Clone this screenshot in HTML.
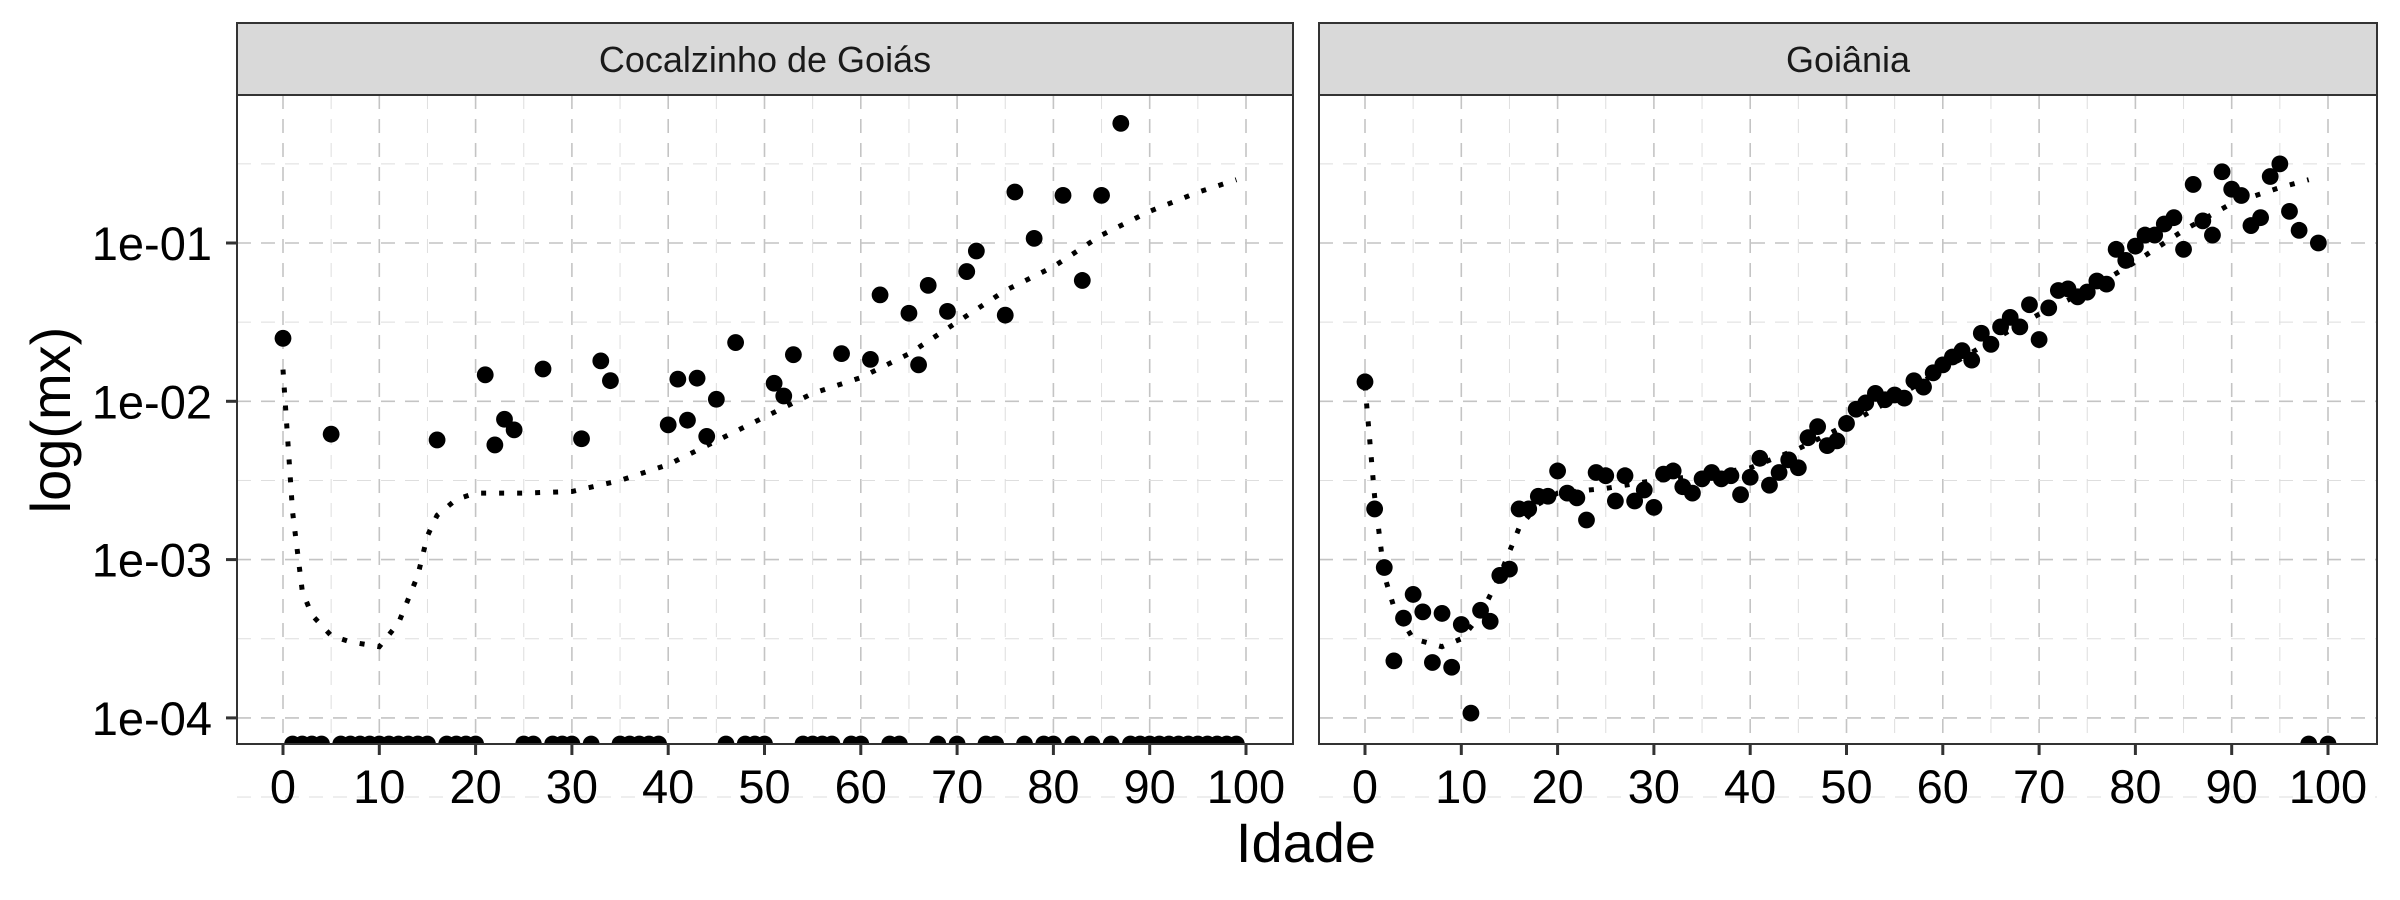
<!DOCTYPE html>
<html><head><meta charset="utf-8">
<style>
html,body{margin:0;padding:0;background:#fff;}
svg{display:block;font-family:"Liberation Sans",sans-serif;}
</style></head>
<body>
<svg id="chart" width="2400" height="900" viewBox="0 0 2400 900" xmlns="http://www.w3.org/2000/svg"></svg>
<script>
// ---- data ----
const panelNames = ["Cocalzinho de Goiás", "Goiânia"];
const xTicks = [0,10,20,30,40,50,60,70,80,90,100];
const yTickLogs = [-1,-2,-3,-4];
const yTickLabels = ["1e-01","1e-02","1e-03","1e-04"];
const cocAges = [0,5,16,21,22,23,24,27,31,33,34,40,41,42,43,44,45,47,51,52,53,58,61,62,65,66,67,69,71,72,75,76,78,81,83,85,87];
const cocVals = [0.025,0.0062,0.0057,0.0147,0.0053,0.0077,0.0066,0.016,0.0058,0.018,0.0135,0.0071,0.0138,0.0076,0.014,0.006,0.0103,0.0235,0.013,0.0108,0.0197,0.02,0.0184,0.047,0.036,0.017,0.054,0.037,0.066,0.089,0.035,0.21,0.107,0.2,0.058,0.2,0.57];
const cocZeroAges = [1,2,3,4,6,7,8,9,10,11,12,13,14,15,17,18,19,20,25,26,28,29,30,32,35,36,37,38,39,46,48,49,50,54,55,56,57,59,60,63,64,68,70,73,74,77,79,80,82,84,86,88,89,90,91,92,93,94,95,96,97,98,99];
const cocFitAges = [0,1,2,3,5,7,10,12,14,15,16,18,20,25,30,35,40,45,50,55,60,65,70,75,80,85,90,95,99];
const cocFitLog = [-1.8,-2.7,-3.2,-3.35,-3.48,-3.52,-3.55,-3.4,-3.1,-2.85,-2.72,-2.62,-2.58,-2.58,-2.57,-2.5,-2.4,-2.25,-2.1,-1.95,-1.85,-1.7,-1.5,-1.3,-1.15,-0.95,-0.8,-0.68,-0.6];
const goiLog = [-1.877,-2.68,-3.05,-3.64,-3.37,-3.22,-3.33,-3.65,-3.34,-3.68,
 -3.41,-3.97,-3.32,-3.39,-3.1,-3.06,-2.68,-2.68,-2.6,-2.6,
 -2.44,-2.58,-2.61,-2.75,-2.45,-2.47,-2.63,-2.47,-2.63,-2.56,
 -2.67,-2.46,-2.44,-2.54,-2.58,-2.49,-2.45,-2.49,-2.47,-2.59,
 -2.48,-2.36,-2.53,-2.45,-2.37,-2.42,-2.23,-2.16,-2.28,-2.25,
 -2.14,-2.05,-2.01,-1.95,-1.99,-1.96,-1.98,-1.87,-1.91,-1.82,
 -1.77,-1.72,-1.68,-1.74,-1.57,-1.64,-1.53,-1.47,-1.53,-1.39,
 -1.61,-1.41,-1.30,-1.29,-1.34,-1.31,-1.24,-1.26,-1.04,-1.11,
 -1.02,-0.95,-0.95,-0.88,-0.84,-1.04,-0.63,-0.86,-0.95,-0.55,
 -0.66,-0.70,-0.89,-0.84,-0.58,-0.50,-0.80,-0.92,null,-1.0,null];
const goiFitAges = [0,1,2,3,5,8,10,12,14,16,18,20,25,30,35,40,45,50,55,60,65,70,75,80,85,90,95,98];
const goiFitLog = [-1.9,-2.6,-3.1,-3.3,-3.5,-3.55,-3.5,-3.35,-3.1,-2.8,-2.65,-2.58,-2.55,-2.5,-2.47,-2.42,-2.3,-2.15,-1.98,-1.8,-1.62,-1.45,-1.3,-1.12,-0.92,-0.75,-0.65,-0.6];

// ---- layout ----
const NS = "http://www.w3.org/2000/svg";
const svg = document.getElementById("chart");
const panelTop = 95, panelBot = 744, stripTop = 23;
const panels = [{x0:237,x1:1293,ax0:283,ax100:1246},{x0:1319,x1:2377,ax0:1365,ax100:2328}];
function yScale(l){ return 243 + (-1 - l) * 158.3; }
function xScale(p, a){ return p.ax0 + (p.ax100 - p.ax0) * a / 100; }
function mk(tag, attrs, parent){ const e=document.createElementNS(NS,tag); for(const k in attrs) e.setAttribute(k,attrs[k]); (parent||svg).appendChild(e); return e; }

panels.forEach((p, pi) => {
  const g = mk("g", {});
  
  
  const strip = mk("rect",{x:p.x0,y:stripTop,width:p.x1-p.x0,height:panelTop-stripTop,fill:"#d9d9d9",stroke:"#333","stroke-width":2},g);
  
  
  const st = mk("text",{x:(p.x0+p.x1)/2,y:stripTop+(panelTop-stripTop)/2+13,"text-anchor":"middle","font-size":36,fill:"#1a1a1a"},g);
  st.textContent = panelNames[pi];
  
  
  const clipId = "clip"+pi;
  const cp = mk("clipPath",{id:clipId},g);
  mk("rect",{x:p.x0,y:panelTop,width:p.x1-p.x0,height:panelBot-panelTop},cp);
  for (let a=0; a<=100; a+=5) {
    const x = xScale(p,a);
    const gl = mk("line",{x1:x,x2:x,y1:panelTop,y2:panelBot,stroke:a%10===0?"#c4c4c4":"#dedede","stroke-width":a%10===0?1.6:1,"stroke-dasharray":"14,10"},g);
    
    
  }
  for (let l=-4.5; l<=-0.5; l+=0.5) {
    const y = yScale(l);
    const major = Math.abs(l-Math.round(l))<1e-6;
    const gl = mk("line",{x1:p.x0,x2:p.x1,y1:y,y2:y,stroke:major?"#c4c4c4":"#dedede","stroke-width":major?1.6:1,"stroke-dasharray":"14,10"},g);
    
    
  }
  const dg = mk("g",{"clip-path":"url(#"+clipId+")"},g);
  const fa = pi===0?cocFitAges:goiFitAges, fl = pi===0?cocFitLog:goiFitLog;
  const path = fa.map((a,i)=>(i?"L":"M")+xScale(p,a).toFixed(1)+","+yScale(fl[i]).toFixed(1)).join(" ");
  const fit = mk("path",{d:path,fill:"none",stroke:"#000","stroke-width":5,"stroke-dasharray":"5,13"},dg);
  
  
  const pts = [];
  if (pi===0) {
    cocAges.forEach((a,i)=>pts.push([a, Math.log10(cocVals[i])]));
    cocZeroAges.forEach(a=>pts.push([a,null]));
  } else {
    goiLog.forEach((l,a)=>pts.push([a,l]));
  }
  pts.forEach(([a,l])=>{
    const c = mk("circle",{cx:xScale(p,a),cy:l===null?panelBot:yScale(l),r:8.4,fill:"#000"},dg);
    
    
  });
  const b = mk("rect",{x:p.x0,y:panelTop,width:p.x1-p.x0,height:panelBot-panelTop,fill:"none",stroke:"#333","stroke-width":2},g);
  
  
  xTicks.forEach(t=>{
    const x = xScale(p,t);
    mk("line",{x1:x,x2:x,y1:panelBot,y2:panelBot+11,stroke:"#333","stroke-width":3},g);
    const tl = mk("text",{x:x,y:803,"text-anchor":"middle","font-size":47,fill:"#000"},g);
    tl.textContent = t;
    
    
  });
  if (pi===0) {
    yTickLogs.forEach((l,i)=>{
      const y = yScale(l);
      mk("line",{x1:p.x0-11,x2:p.x0,y1:y,y2:y,stroke:"#333","stroke-width":3},g);
      const tl = mk("text",{x:p.x0-25,y:y+17,"text-anchor":"end","font-size":47,fill:"#000"},g);
      tl.textContent = yTickLabels[i];
      
      
    });
  }
});
const xt = mk("text",{x:1306,y:862,"text-anchor":"middle","font-size":56,fill:"#000"});
xt.textContent = "Idade";


const yt = mk("text",{x:0,y:0,"text-anchor":"middle","font-size":56,fill:"#000",transform:"translate(70,420) rotate(-90)"});
yt.textContent = "log(mx)";


</script>
</body></html>
